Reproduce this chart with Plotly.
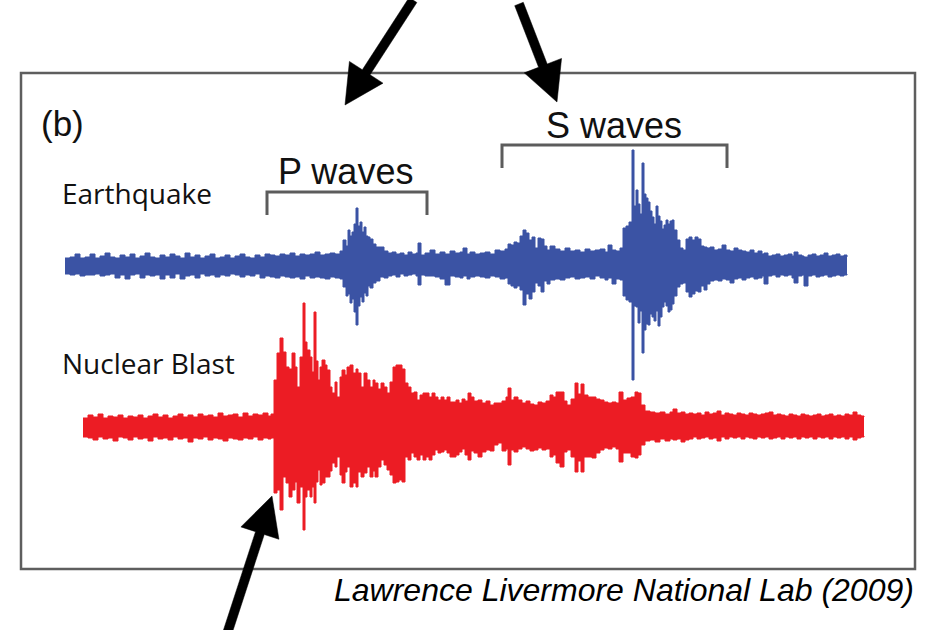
import plotly.graph_objects as go

# ---------------------------------------------------------------------------
# Seismogram envelopes: time (s), upper and lower trace excursion (counts)
# ---------------------------------------------------------------------------
quake_t = [
    6.5, 7.0, 7.5, 8.0, 8.5, 9.0, 9.5, 10.0, 10.5, 11.0,
    11.5, 12.0, 12.5, 13.0, 13.5, 14.0, 14.5, 15.0, 15.5, 16.0,
    16.5, 17.0, 17.5, 18.0, 18.5, 19.0, 19.5, 20.0, 20.5, 21.0,
    21.5, 22.0, 22.5, 23.0, 23.5, 24.0, 24.5, 25.0, 25.5, 26.0,
    26.5, 27.0, 27.5, 28.0, 28.5, 29.0, 29.5, 30.0, 30.5, 31.0,
    31.5, 32.0, 32.5, 33.0, 33.5, 34.0, 34.3, 34.6, 34.8, 35.0,
    35.2, 35.4, 35.6, 35.8, 36.0, 36.2, 36.4, 36.6, 36.8, 37.0,
    37.3, 37.6, 38.0, 38.4, 38.8, 39.2, 39.6, 40.0, 40.4, 40.8,
    41.2, 41.6, 41.8, 42.1, 42.5, 43.0, 43.5, 44.0, 44.5, 45.0,
    45.5, 46.0, 46.3, 46.7, 47.0, 47.5, 48.0, 48.5, 49.0, 49.5,
    50.0, 50.5, 50.8, 51.1, 51.4, 51.7, 52.0, 52.3, 52.6, 52.9,
    53.2, 53.5, 53.8, 54.1, 54.4, 54.7, 55.0, 55.5, 56.0, 56.5,
    57.0, 57.5, 58.0, 58.5, 59.0, 59.5, 60.0, 60.5, 60.8, 61.2,
    61.6, 62.0, 62.3, 62.6, 62.9, 63.2, 63.4, 63.6, 63.8, 64.0,
    64.2, 64.4, 64.6, 64.8, 65.0, 65.2, 65.4, 65.6, 65.8, 66.0,
    66.2, 66.4, 66.6, 66.8, 67.0, 67.2, 67.4, 67.7, 68.0, 68.3,
    68.6, 68.9, 69.2, 69.5, 69.8, 70.1, 70.4, 70.7, 71.0, 71.4,
    71.8, 72.2, 72.6, 73.0, 73.4, 73.8, 74.2, 74.6, 75.0, 75.4,
    75.8, 76.2, 76.4, 76.8, 77.2, 77.6, 78.0, 78.4, 78.8, 79.2,
    79.4, 79.8, 80.2, 80.4, 80.8, 81.2, 81.6, 82.0, 82.4, 82.8,
    83.2, 83.6, 84.0, 84.4, 84.7,
]
quake_up = [
    8, 9, 12, 8, 9, 12, 8, 10, 13, 9,
    8, 11, 9, 12, 8, 10, 13, 9, 8, 11,
    9, 12, 10, 8, 13, 9, 11, 8, 10, 12,
    8, 9, 11, 8, 10, 12, 9, 8, 11, 9,
    12, 11, 10, 12, 11, 13, 10, 12, 11, 12,
    14, 11, 12, 13, 12, 15, 26, 20, 36, 30,
    34, 42, 58, 40, 44, 34, 39, 30, 29, 27,
    22, 19, 19, 15, 13, 14, 12, 13, 11, 14,
    12, 13, 23, 11, 13, 16, 12, 14, 12, 15,
    13, 14, 18, 12, 14, 12, 13, 14, 12, 16,
    15, 17, 22, 21, 24, 23, 30, 36, 33, 26,
    29, 18, 28, 27, 20, 16, 20, 17, 15, 18,
    15, 16, 14, 17, 15, 16, 17, 14, 21, 16,
    15, 18, 38, 40, 44, 116, 60, 76, 62, 52,
    103, 72, 68, 64, 55, 49, 42, 60, 50, 45,
    37, 41, 46, 42, 45, 46, 36, 26, 18, 16,
    27, 29, 26, 29, 27, 20, 19, 18, 19, 16,
    17, 21, 16, 15, 18, 16, 15, 14, 16, 13,
    15, 12, 13, 10, 11, 12, 10, 11, 12, 10,
    14, 11, 10, 9, 11, 12, 10, 11, 13, 10,
    11, 12, 10, 11, 9,
]
quake_lo = [
    -8, -9, -8, -10, -9, -9, -8, -10, -9, -8,
    -12, -9, -13, -9, -8, -12, -9, -10, -9, -13,
    -9, -12, -8, -13, -10, -9, -12, -8, -10, -9,
    -11, -9, -10, -8, -9, -11, -9, -10, -8, -12,
    -10, -11, -12, -10, -11, -12, -11, -13, -10, -12,
    -11, -12, -13, -11, -12, -13, -21, -30, -28, -37,
    -33, -46, -59, -40, -31, -36, -27, -30, -20, -22,
    -17, -15, -11, -12, -10, -9, -11, -8, -10, -9,
    -8, -10, -19, -9, -10, -10, -11, -13, -19, -10,
    -11, -12, -10, -13, -11, -10, -11, -12, -10, -11,
    -13, -12, -18, -20, -22, -20, -24, -39, -28, -33,
    -26, -17, -20, -26, -15, -18, -14, -13, -14, -12,
    -11, -13, -12, -11, -13, -10, -12, -14, -12, -18,
    -13, -14, -30, -34, -36, -114, -40, -41, -57, -45,
    -87, -64, -58, -59, -48, -51, -55, -45, -60, -51,
    -41, -36, -40, -46, -44, -38, -30, -21, -18, -17,
    -26, -31, -28, -25, -26, -20, -24, -18, -15, -14,
    -15, -13, -14, -17, -13, -12, -14, -12, -11, -13,
    -12, -10, -18, -10, -9, -11, -9, -10, -9, -12,
    -17, -10, -9, -20, -10, -9, -11, -10, -9, -11,
    -10, -9, -10, -9, -8,
]

blast_t = [
    8.3, 8.8, 9.3, 9.8, 10.3, 10.8, 11.3, 11.8, 12.3, 12.8,
    13.3, 13.8, 14.3, 14.8, 15.3, 15.8, 16.3, 16.8, 17.3, 17.8,
    18.3, 18.8, 19.3, 19.8, 20.3, 20.8, 21.3, 21.8, 22.3, 22.8,
    23.3, 23.8, 24.3, 24.8, 25.3, 25.8, 26.3, 26.8, 27.1, 27.4,
    27.7, 28.0, 28.3, 28.6, 28.9, 29.2, 29.5, 29.7, 30.0, 30.3,
    30.5, 30.7, 31.0, 31.2, 31.4, 31.6, 31.8, 32.0, 32.2, 32.5,
    32.7, 33.0, 33.2, 33.5, 33.7, 34.0, 34.2, 34.5, 34.7, 35.0,
    35.3, 35.6, 35.8, 36.1, 36.4, 36.7, 37.0, 37.3, 37.5, 37.8,
    38.1, 38.4, 38.7, 39.0, 39.3, 39.6, 39.9, 40.2, 40.5, 40.8,
    41.1, 41.4, 41.7, 42.0, 42.3, 42.6, 42.9, 43.2, 43.5, 43.8,
    44.1, 44.4, 44.7, 45.0, 45.3, 45.6, 45.9, 46.2, 46.5, 46.8,
    47.1, 47.4, 47.8, 48.2, 48.6, 49.0, 49.4, 49.8, 50.2, 50.6,
    50.8, 51.1, 51.4, 51.8, 52.2, 52.6, 53.0, 53.4, 53.8, 54.2,
    54.6, 55.0, 55.3, 55.6, 56.0, 56.4, 56.7, 57.1, 57.5, 57.8,
    58.1, 58.4, 58.8, 59.2, 59.6, 60.0, 60.4, 60.8, 61.2, 61.6,
    61.9, 62.3, 62.7, 63.1, 63.5, 63.8, 64.1, 64.5, 65.0, 65.5,
    66.0, 66.5, 67.0, 67.3, 67.7, 68.1, 68.5, 68.9, 69.3, 69.7,
    70.1, 70.5, 70.9, 71.3, 71.7, 72.1, 72.5, 72.9, 73.3, 73.7,
    74.1, 74.5, 74.9, 75.3, 75.7, 76.1, 76.5, 76.9, 77.3, 77.7,
    78.1, 78.5, 78.9, 79.3, 79.7, 80.1, 80.5, 80.9, 81.3, 81.7,
    82.1, 82.5, 82.9, 83.3, 83.7, 84.1, 84.5, 84.9, 85.3, 85.7,
    86.1, 86.4,
]
blast_up = [
    9, 12, 10, 13, 9, 11, 10, 12, 9, 11,
    10, 12, 9, 11, 13, 10, 12, 9, 11, 13,
    10, 12, 10, 13, 11, 12, 10, 14, 11, 12,
    13, 10, 14, 11, 13, 12, 14, 11, 13, 47,
    74, 89, 75, 60, 58, 74, 60, 40, 70, 124,
    85, 77, 70, 55, 115, 66, 47, 60, 67, 62,
    57, 40, 34, 45, 30, 50, 57, 52, 60, 62,
    54, 58, 54, 40, 54, 47, 40, 47, 44, 38,
    44, 40, 34, 45, 60, 62, 62, 58, 44, 40,
    34, 35, 27, 32, 34, 34, 30, 34, 30, 27,
    30, 27, 30, 25, 25, 27, 24, 28, 26, 34,
    30, 26, 27, 24, 26, 22, 24, 24, 26, 30,
    39, 27, 30, 27, 24, 26, 23, 22, 25, 24,
    26, 32, 30, 35, 35, 26, 22, 28, 44, 33,
    43, 32, 30, 30, 28, 27, 25, 24, 25, 24,
    35, 27, 29, 30, 35, 34, 22, 16, 15, 14,
    15, 13, 15, 18, 14, 15, 13, 14, 13, 14,
    12, 15, 13, 14, 16, 12, 14, 13, 12, 14,
    13, 12, 14, 13, 12, 13, 14, 15, 12, 13,
    12, 11, 13, 12, 11, 13, 12, 11, 12, 13,
    11, 12, 13, 11, 12, 11, 13, 12, 15, 12,
    11, 10,
]
blast_lo = [
    -10, -11, -13, -10, -12, -11, -14, -10, -11, -13,
    -10, -12, -11, -14, -10, -12, -11, -13, -10, -12,
    -11, -15, -11, -12, -10, -13, -11, -12, -14, -11,
    -12, -13, -11, -12, -10, -13, -11, -12, -11, -66,
    -63, -83, -50, -56, -70, -63, -55, -76, -60, -103,
    -70, -63, -70, -60, -76, -55, -43, -58, -56, -50,
    -50, -44, -36, -40, -30, -48, -56, -45, -40, -60,
    -56, -60, -45, -50, -46, -40, -50, -44, -50, -40,
    -33, -38, -43, -48, -56, -55, -53, -55, -30, -33,
    -26, -30, -33, -28, -33, -30, -33, -28, -23, -26,
    -25, -23, -26, -30, -30, -28, -25, -22, -28, -33,
    -24, -26, -30, -25, -23, -24, -18, -16, -24, -22,
    -38, -23, -25, -22, -20, -22, -24, -23, -21, -23,
    -22, -30, -28, -36, -40, -25, -23, -30, -45, -34,
    -45, -30, -30, -31, -26, -23, -21, -22, -20, -22,
    -35, -26, -26, -30, -31, -28, -18, -14, -13, -15,
    -12, -14, -12, -13, -12, -15, -13, -12, -10, -12,
    -11, -10, -12, -11, -14, -10, -12, -10, -11, -10,
    -12, -10, -11, -12, -10, -11, -10, -12, -11, -10,
    -12, -10, -11, -10, -12, -10, -11, -10, -12, -10,
    -11, -10, -12, -10, -11, -10, -12, -10, -13, -11,
    -10, -9,
]

# Vertical offsets that stack the two records in one panel
quake_offset = 55
blast_offset = -106

# Phase windows (s) marked with brackets above the earthquake record
p_window = [26.7, 42.7]
s_window = [50.2, 72.7]

QUAKE_BLUE = "#3b53a4"
BLAST_RED = "#ec1c24"
BRACKET_GREY = "#5c5c5c"

# Figure geometry (px)
W, H = 928, 630
ML, MR, MT, MB = 21, 13, 73, 61


def px(x):
    return (x - ML) / (W - ML - MR)


def py(y):
    return (H - MB - y) / (H - MT - MB)


def arrow_path(x0, y0, x1, y1, shaft=4.6, head_len=39, head_half=20):
    dx, dy = x1 - x0, y1 - y0
    n = (dx * dx + dy * dy) ** 0.5
    ux, uy = dx / n, dy / n
    nx, ny = -uy, ux
    bx, by = x1 - head_len * ux, y1 - head_len * uy
    pts = [
        (x0 + shaft * nx, y0 + shaft * ny),
        (bx + shaft * nx, by + shaft * ny),
        (bx + head_half * nx, by + head_half * ny),
        (x1, y1),
        (bx - head_half * nx, by - head_half * ny),
        (bx - shaft * nx, by - shaft * ny),
        (x0 - shaft * nx, y0 - shaft * ny),
    ]
    return "M " + " L ".join(f"{px(a):.5f},{py(b):.5f}" for a, b in pts) + " Z"


fig = go.Figure()


def add_record(t, up, lo, offset, color):
    fig.add_trace(go.Scatter(
        x=t, y=[offset + v for v in lo], mode="lines",
        line=dict(color=color, width=1, shape="hv"),
        hoverinfo="skip", showlegend=False,
    ))
    fig.add_trace(go.Scatter(
        x=t, y=[offset + v for v in up], mode="lines",
        line=dict(color=color, width=1, shape="hv"),
        fill="tonexty", fillcolor=color,
        hoverinfo="skip", showlegend=False,
    ))


add_record(quake_t, quake_up, quake_lo, quake_offset, QUAKE_BLUE)
add_record(blast_t, blast_up, blast_lo, blast_offset, BLAST_RED)

shapes = [
    # panel frame
    dict(type="rect", xref="paper", yref="paper", x0=0, x1=1, y0=0, y1=1,
         line=dict(color="#5e5e5e", width=2.5)),
]

# phase brackets
for (a, b), top, tick in ((p_window, 192, 215), (s_window, 145, 168)):
    shapes.append(dict(
        type="path", xref="x", yref="paper",
        path=f"M {a},{py(tick):.5f} L {a},{py(top):.5f} L {b},{py(top):.5f} L {b},{py(tick):.5f}",
        line=dict(color=BRACKET_GREY, width=3),
    ))

# pointer arrows
for tail, tip in (((413, 0), (345, 105)), ((519, 4), (557, 102)), ((227, 634), (272, 496))):
    shapes.append(dict(
        type="path", xref="paper", yref="paper",
        path=arrow_path(*tail, *tip),
        fillcolor="#000000", line=dict(color="#000000", width=0.5),
    ))

sans = "Liberation Sans, Arial, sans-serif"
label_font = "Open Sans, sans-serif"

annotations = [
    dict(text="(b)", x=px(39), y=py(124), xanchor="left", yanchor="middle",
         font=dict(family=sans, size=35, color="#111111")),
    dict(text="S waves", x=px(614), y=py(126), xanchor="center", yanchor="middle",
         font=dict(family=sans, size=36, color="#111111")),
    dict(text="P waves", x=px(345), y=py(171), xanchor="center", yanchor="middle",
         font=dict(family=sans, size=36, color="#111111")),
    dict(text="Earthquake", x=px(60), y=py(193), xanchor="left", yanchor="middle",
         font=dict(family=label_font, size=28, color="#111111")),
    dict(text="Nuclear Blast", x=px(60), y=py(363), xanchor="left", yanchor="middle",
         font=dict(family=label_font, size=28, color="#111111")),
    dict(text="<i>Lawrence Livermore National Lab (2009)</i>", x=px(916), y=py(590),
         xanchor="right", yanchor="middle",
         font=dict(family=sans, size=32, color="#000000")),
]
for a in annotations:
    a.update(xref="paper", yref="paper", showarrow=False)

fig.update_layout(
    width=W, height=H,
    margin=dict(l=ML, r=MR, t=MT, b=MB, pad=0),
    paper_bgcolor="white", plot_bgcolor="white",
    xaxis=dict(range=[2.1, 91.5], visible=False, fixedrange=True),
    yaxis=dict(range=[-248, 248], visible=False, fixedrange=True),
    shapes=shapes, annotations=annotations,
    showlegend=False,
)

fig.write_html("out.html", config={"displayModeBar": False})
